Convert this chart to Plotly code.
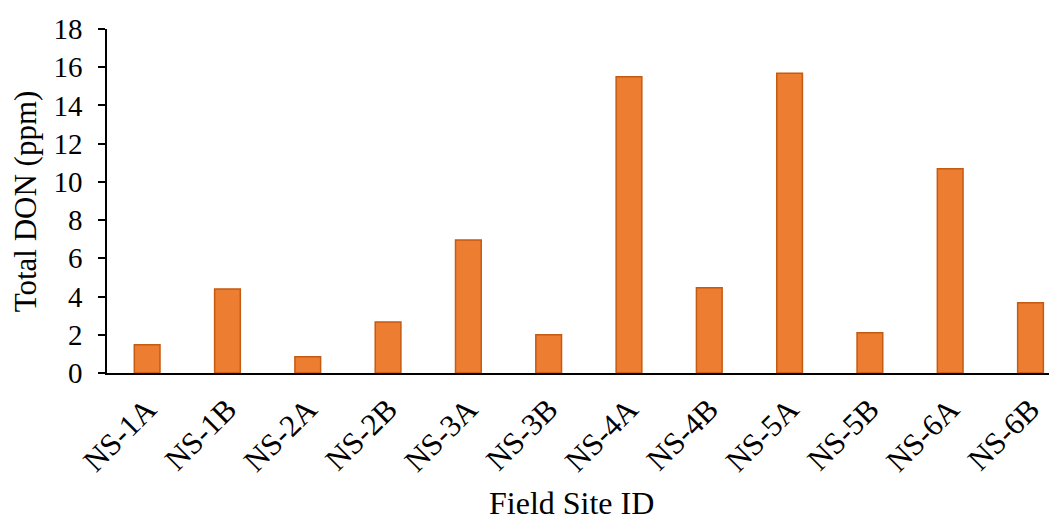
import plotly.graph_objects as go

sites = ["NS-1A", "NS-1B", "NS-2A", "NS-2B", "NS-3A", "NS-3B",
         "NS-4A", "NS-4B", "NS-5A", "NS-5B", "NS-6A", "NS-6B"]
don_ppm = [1.48, 4.4, 0.85, 2.67, 6.96, 2.0, 15.5, 4.46, 15.68, 2.11, 10.69, 3.68]
y_ticks = [0, 2, 4, 6, 8, 10, 12, 14, 16, 18]

FONT = "Liberation Serif, Times New Roman, serif"

fig = go.Figure()
fig.add_trace(go.Bar(
    x=sites, y=don_ppm,
    marker=dict(color="#ED7D31", line=dict(color="#C55A11", width=1.5)),
    width=0.32,
))

fig.update_layout(
    width=1049, height=513,
    margin=dict(l=99, r=0, t=21, b=148),
    paper_bgcolor="white", plot_bgcolor="white",
    showlegend=False,
    font=dict(family=FONT, size=30, color="black"),
    xaxis=dict(
        type="category", range=[-0.5, 11.33], automargin=False,
        showline=True, linecolor="black", linewidth=1.5,
        ticks="", tickangle=-45, ticklabelstandoff=4,
        tickfont=dict(family=FONT, size=31, color="black"),
        showgrid=False, zeroline=False,
    ),
    yaxis=dict(
        range=[0, 18], tickvals=y_ticks, automargin=False,
        showline=True, linecolor="black", linewidth=1.5,
        ticks="outside", ticklen=7, tickwidth=1.5, tickcolor="black",
        ticklabelstandoff=10,
        tickfont=dict(family=FONT, size=29, color="black"),
        showgrid=False, zeroline=False,
    ),
    annotations=[
        dict(text="Field Site ID", xref="paper", yref="paper",
             x=0.489, y=-0.378, xanchor="center", yanchor="middle",
             showarrow=False, font=dict(family=FONT, size=32, color="black")),
        dict(text="Total DON (ppm)", xref="paper", yref="paper",
             x=-0.086, y=0.5, xanchor="center", yanchor="middle", textangle=-90,
             borderpad=0, showarrow=False, font=dict(family=FONT, size=31, color="black")),
    ],
)

fig.write_html("out.html")
